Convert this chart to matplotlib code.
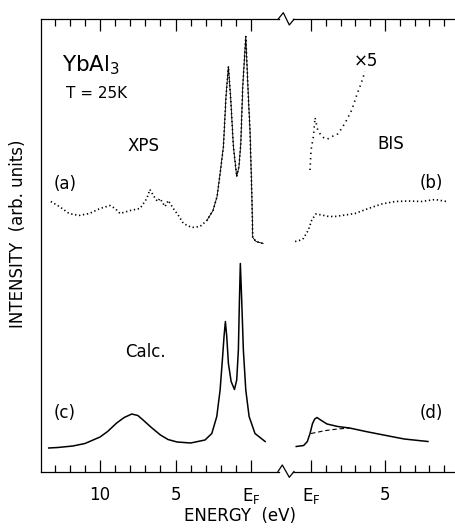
import matplotlib
matplotlib.use("Agg")
from matplotlib import pyplot as plt
from matplotlib.lines import Line2D

# XPS (a), binding energy in eV, intensity in arb. units
xps_energy = [13.26, 12.7, 12.05, 11.4, 10.7, 10.0, 9.34, 9.0, 8.68, 8.0, 7.35, 6.9, 6.7, 6.47,
              6.2, 6.03, 5.7, 5.48, 5.15, 4.81, 4.48, 3.93, 3.38, 2.93, 2.52, 2.25, 2.05, 1.83,
              1.66, 1.5, 1.34, 1.17, 0.95, 0.8, 0.68, 0.55, 0.35, 0.18, 0.07, -0.05, -0.11,
              -0.33, -0.8]
xps_int = [270, 265, 258, 256, 258, 263, 266, 263, 258, 261, 263, 273, 282, 276,
           270, 273, 265, 271, 263, 256, 248, 244, 245, 251, 261, 275, 298, 325,
           375, 405, 371, 325, 295, 305, 328, 385, 435, 375, 341, 278, 234,
           230, 228]

# BIS (b), energy above E_F in eV
bis_energy = [-1.08, -0.8, -0.52, -0.18, 0.05, 0.32, 0.72, 1.2, 1.62, 2.3, 2.97, 3.87, 4.78,
              5.68, 6.57, 7.48, 8.38, 9.17]
bis_int = [230, 231, 233, 241.5, 251.5, 257.5, 256.5, 255, 255, 256.5, 258, 263, 267.5,
           270, 270.5, 270, 272, 270]

# BIS x5
bis5_energy = [-0.07, 0.0, 0.16, 0.27, 0.45, 0.72, 1.06, 1.4, 1.74, 2.07, 2.41, 2.75, 3.09, 3.38, 3.65]
bis5_int = [301.5, 321.5, 335, 354, 341.5, 335, 332, 335, 336.5, 343, 351.5, 361.5, 376.5, 388, 400]

# Calc. (c)
calc_l_energy = [13.4, 12.8, 11.8, 11.0, 10.0, 9.5, 8.9, 8.4, 7.9, 7.5, 7.15, 6.6, 6.0, 5.5, 4.9,
                 4.0, 3.05, 2.6, 2.27, 2.05, 1.9, 1.79, 1.7, 1.61, 1.5, 1.32, 1.1, 0.95, 0.84,
                 0.77, 0.71, 0.62, 0.51, 0.35, 0.13, -0.26, -0.93]
calc_l_int = [23.5, 24, 25.5, 28, 34.5, 40, 48.5, 54, 57.5, 56, 51.5, 44, 36.5, 32, 29.5,
              28.5, 31.5, 38, 55, 81.5, 111.5, 135, 150, 135, 108, 90, 82, 91.5, 121.5,
              171.5, 208, 171.5, 121.5, 81.5, 55, 38, 30]

# Calc. (d)
calc_r_energy = [-1.0, -0.5, -0.25, -0.07, 0.1, 0.25, 0.4, 0.7, 1.08, 1.8, 2.6, 3.7, 4.9, 6.3, 7.9]
calc_r_int = [25, 26, 30, 38, 48, 52.5, 54, 51, 47.5, 45, 43.5, 40, 36.5, 32.5, 30]
dash_energy = [0.0, 0.5, 1.0, 1.8, 2.6]
dash_int = [38, 39.5, 41, 42.5, 43.5]

W, H = 455, 531
plt.rcParams['font.family'] = ['DejaVu Sans']
plt.rcParams['mathtext.fontset'] = 'dejavusans'


def fx(x):
    return x / W


def fy(y):
    return 1 - y / H


fig = plt.figure(figsize=(W / 100, H / 100), dpi=100)
top, bot = 19.3, 471.5
ax1 = fig.add_axes([fx(41), fy(bot), fx(279 - 41), (bot - top) / H])
ax2 = fig.add_axes([fx(293), fy(bot), fx(455 - 293), (bot - top) / H])

lw_ax = 0.9
for ax in (ax1, ax2):
    ax.set_ylim(0, bot - top)
    ax.set_yticks([])
    for s in ax.spines.values():
        s.set_linewidth(lw_ax)
    ax.spines['right'].set_visible(False)
    ax.tick_params(axis='x', which='both', direction='in', top=True, bottom=True,
                   width=0.9, labelsize=12, pad=10.5)
    ax.tick_params(axis='x', which='major', length=8.5)
    ax.tick_params(axis='x', which='minor', length=4.8)
ax2.spines['left'].set_visible(False)

ax1.set_xlim(13.91, -1.85)
ax1.set_xticks([10, 5, 0])
ax1.set_xticklabels(['10', '5', r'E$_\mathrm{F}$'])
ax1.set_xticks([13, 12, 11, 9, 8, 7, 6, 4, 3, 2, 1], minor=True)

ax2.set_xlim(-1.22, 9.73)
ax2.set_xticks([0, 5])
ax2.set_xticklabels([r'E$_\mathrm{F}$', '5'])
ax2.set_xticks([1, 2, 3, 4, 6, 7, 8, 9], minor=True)

dots = (0, (0.8, 1.6))
# experimental curves
ax1.plot(xps_energy, xps_int, color='black', lw=1.2, linestyle=dots)
ax1.plot(xps_energy[23:], xps_int[23:], color='black', lw=0.6)
ax2.plot(bis_energy, bis_int, color='black', lw=1.2, linestyle=dots)
ax2.plot(bis5_energy, bis5_int, color='black', lw=1.2, linestyle=(0, (0.8, 2.4)))

# calculated curves
ax1.plot(calc_l_energy, calc_l_int, color='black', lw=1.1)
ax2.plot(calc_r_energy, calc_r_int, color='black', lw=1.1)
ax2.plot(dash_energy, dash_int, color='black', lw=0.8, linestyle=(0, (4, 2.5)))

# axis break zigzags
fig.add_artist(Line2D([fx(278), fx(283.3), fx(289.3), fx(294)],
                      [fy(top), fy(12.7), fy(25), fy(top)], color='black', lw=lw_ax))
fig.add_artist(Line2D([fx(278), fx(282.3), fx(289.3), fx(294)],
                      [fy(bot), fy(465), fy(477.3), fy(bot)], color='black', lw=lw_ax))

# texts
fig.text(fx(62), fy(65), r'YbAl$_3$', fontsize=15.5, va='center', ha='left')
fig.text(fx(66), fy(94), 'T = 25K', fontsize=11, va='center', ha='left')
fig.text(fx(143), fy(146), 'XPS', fontsize=12, va='center', ha='center')
fig.text(fx(65), fy(184), '(a)', fontsize=12, va='center', ha='center')
fig.text(fx(366), fy(61), '×5', fontsize=12, va='center', ha='center')
fig.text(fx(391), fy(144), 'BIS', fontsize=12, va='center', ha='center')
fig.text(fx(431), fy(183), '(b)', fontsize=12, va='center', ha='center')
fig.text(fx(145), fy(352), 'Calc.', fontsize=12, va='center', ha='center')
fig.text(fx(65), fy(413), '(c)', fontsize=12, va='center', ha='center')
fig.text(fx(431), fy(413), '(d)', fontsize=12, va='center', ha='center')
fig.text(fx(240), fy(516), 'ENERGY  (eV)', fontsize=12, va='center', ha='center')
fig.text(fx(18), fy(234), 'INTENSITY  (arb. units)', fontsize=12, va='center', ha='center',
         rotation=90)

plt.savefig('out.png', dpi=100, facecolor='white')
